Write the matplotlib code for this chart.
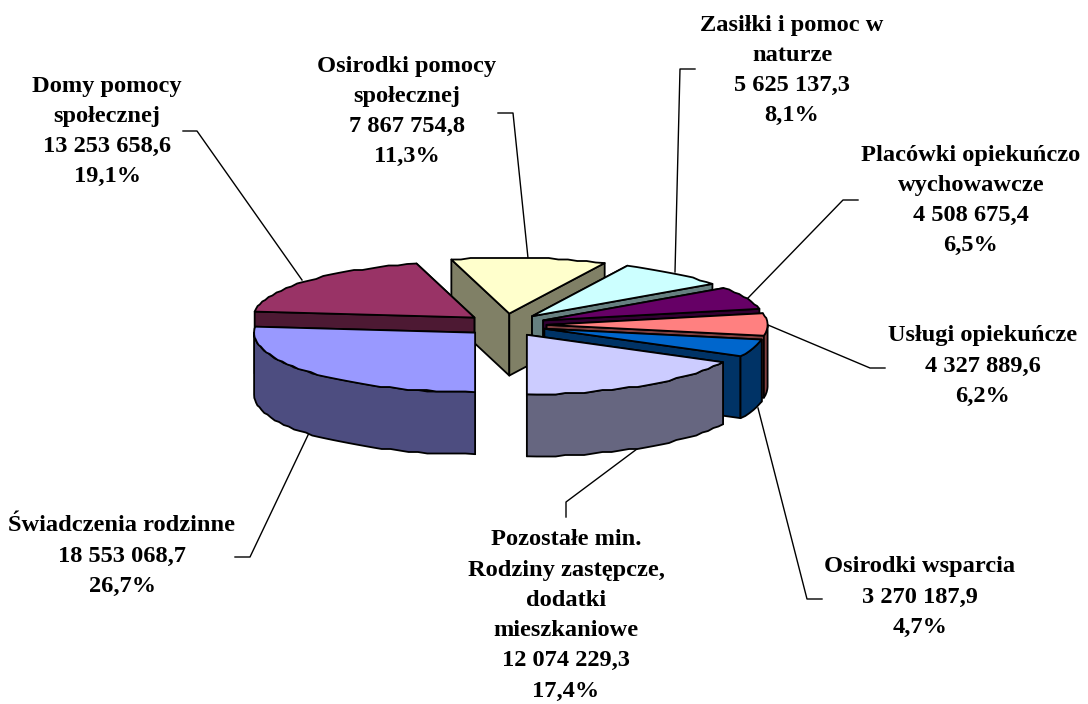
import numpy as np
import matplotlib
matplotlib.use("Agg")
import matplotlib.pyplot as plt
from matplotlib.patches import Polygon

names = ["Osirodki pomocy\nspołecznej", "Zasiłki i pomoc w\nnaturze",
         "Placówki opiekuńczo\nwychowawcze", "Usługi opiekuńcze",
         "Osirodki wsparcia", "Pozostałe min.\nRodziny zastępcze,\ndodatki\nmieszkaniowe",
         "Świadczenia rodzinne", "Domy pomocy\nspołecznej"]
values = [7867754.8, 5625137.3, 4508675.4, 4327889.6,
          3270187.9, 12074229.3, 18553068.7, 13253658.6]
value_labels = ["7 867 754,8", "5 625 137,3", "4 508 675,4", "4 327 889,6",
                "3 270 187,9", "12 074 229,3", "18 553 068,7", "13 253 658,6"]
percent_labels = ["11,3%", "8,1%", "6,5%", "6,2%", "4,7%", "17,4%", "26,7%", "19,1%"]
top_colors = ["#FFFFCC", "#CCFFFF", "#660066", "#FF8080",
              "#0066CC", "#CCCCFF", "#9999FF", "#993366"]
side_colors = ["#808066", "#668080", "#330033", "#804040",
               "#003366", "#666680", "#4D4D80", "#4D1933"]

# label centre x, first-line centre y
label_pos = [(407, 65), (792, 24), (971, 154), (983, 335),
             (920, 566), (566, 538), (122, 525), (107, 85)]
leaders = [[(528, 258), (513, 113), (498, 113)],
           [(675, 272), (680, 69), (695, 69)],
           [(748, 298), (843, 200), (858, 200)],
           [(768, 325), (870, 368), (885, 368)],
           [(758, 408), (807, 599), (822, 599)],
           [(645, 443), (566, 502), (566, 517)],
           [(309, 433), (250, 557), (235, 557)],
           [(302, 280), (197, 131), (183, 131)]]

CX, CY = 505.6, 325.0
RX, RY_FRONT, RY_BACK = 221.0, 59.5, 56.0
DEPTH = 62.0
EXPLODE = 41.0
K = 0.28
START = -15.2
LW = 1.3
LINE_STEP = 31.0

fig = plt.figure(figsize=(10.88, 7.04), dpi=100)
ax = fig.add_axes([0, 0, 1, 1])
ax.set_xlim(0, 1088)
ax.set_ylim(704, 0)
ax.axis("off")

fractions = np.array(values) / np.sum(values)
edges = START + np.concatenate([[0], np.cumsum(fractions)]) * 360


def arc(ax0, ay0, t0, t1):
    n = max(int(abs(t1 - t0) * 0.4), 2)
    t = np.radians(np.linspace(t0, t1, n + 1))
    c = np.cos(t)
    x = ax0 + RX * np.sin(t)
    y = ay0 - np.where(c > 0, RY_BACK, RY_FRONT) * c
    # the source's coarse metafile outline: vertices snapped to a grid
    y[1:-1] = np.round(y[1:-1] / 1.5) * 1.5
    return np.column_stack([x, y])


def draw(poly, color, z):
    ax.add_patch(Polygon(poly, closed=True, facecolor=color, edgecolor="black",
                         linewidth=LW, joinstyle="round", zorder=z))


def draw_slice(i, z):
    t0, t1 = edges[i], edges[i + 1]
    mid = np.radians((t0 + t1) / 2)
    ax0 = CX + EXPLODE * np.sin(mid)
    ay0 = CY - EXPLODE * K * np.cos(mid)
    rim = arc(ax0, ay0, t0, t1)
    apex = np.array([[ax0, ay0]])
    down = np.array([0, DEPTH])
    # the cut face lying further back on the page goes first
    for k, e in enumerate(sorted((rim[0], rim[-1]), key=lambda p: p[1])):
        e = e[None, :]
        draw(np.vstack([apex, e, e + down, apex + down]), side_colors[i], z + 0.01 * k)
    f0, f1 = max(t0, 90), min(t1, 270)
    if f1 > f0:
        front = arc(ax0, ay0, f0, f1)
        draw(np.vstack([front, (front + down)[::-1]]), side_colors[i], z + 0.1)
    draw(np.vstack([apex, rim]), top_colors[i], z + 0.2)


for z, i in enumerate([0, 1, 2, 3, 4, 5, 7, 6]):
    draw_slice(i, 3 + z)

for path in leaders:
    p = np.array(path)
    ax.plot(p[:, 0], p[:, 1], color="black", lw=1.0, zorder=1)

for name, val, pct, (x, y) in zip(names, value_labels, percent_labels, label_pos):
    txt = f"{name}\n{val}\n{pct}"
    n = txt.count("\n")
    ax.text(x, y + n * LINE_STEP / 2, txt, ha="center", va="center",
            family="Liberation Serif", weight="bold", fontsize=17.6,
            linespacing=1.58, color="black", zorder=20)

fig.savefig("out.png", dpi=100, facecolor="white")
